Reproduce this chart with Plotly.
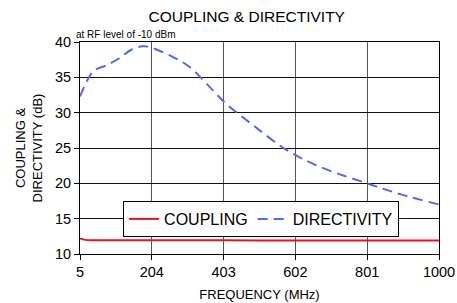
import plotly.graph_objects as go

freq_dir = [5, 31, 45, 78, 114, 147, 179, 197, 262, 308, 354, 409, 483, 575, 667, 800, 897, 1000]
directivity = [32.3, 35.1, 36.0, 36.7, 37.7, 38.9, 39.4, 39.3, 37.9, 36.5, 34.2, 31.3, 28.3, 24.8, 22.4, 20.0, 18.4, 17.0]
freq_cpl = [5, 20, 40, 80, 200, 400, 600, 800, 1000]
coupling = [12.2, 12.0, 11.95, 11.95, 11.95, 11.95, 11.9, 11.9, 11.9]
x_ticks = [5, 204, 403, 602, 801, 1000]
y_ticks = [10, 15, 20, 25, 30, 35, 40]

font = "Liberation Sans, Arial, sans-serif"

fig = go.Figure()
fig.add_trace(go.Scatter(x=freq_cpl, y=coupling, mode="lines", name="COUPLING",
                         line=dict(color="#e8141b", width=2, shape="spline")))
fig.add_trace(go.Scatter(x=freq_dir, y=directivity, mode="lines", name="DIRECTIVITY",
                         line=dict(color="#4a6cf0", width=2, dash="10px,6px", shape="spline")))

fig.update_layout(
    width=457, height=303,
    margin=dict(l=80, r=18, t=42, b=49, autoexpand=False),
    paper_bgcolor="white", plot_bgcolor="white",
    font=dict(family=font, color="black", size=13),
    title=dict(text="COUPLING & DIRECTIVITY", x=0.54, xanchor="center", y=0.945, yanchor="middle",
               font=dict(size=15.5, family=font)),
    showlegend=True,
    legend=dict(orientation="h", x=0.12, y=0.25, xanchor="left", yanchor="top",
                bordercolor="black", borderwidth=1, bgcolor="white",
                font=dict(size=16, family=font), tracegroupgap=0),
    xaxis=dict(range=[5, 1000], tickvals=x_ticks, ticktext=[str(v) for v in x_ticks],
               showgrid=True, gridcolor="#555", gridwidth=1, automargin=False,
               showline=True, linecolor="black", linewidth=1, mirror=True,
               ticks="outside", ticklen=5, tickcolor="black", zeroline=False,
               tickfont=dict(size=14.5),
               title=dict(text="FREQUENCY (MHz)", standoff=10, font=dict(size=13))),
    yaxis=dict(range=[10, 40], tickvals=y_ticks, automargin=False,
               showgrid=True, gridcolor="#111", gridwidth=1,
               showline=True, linecolor="black", linewidth=1, mirror=True,
               ticks="outside", ticklen=5, tickcolor="black", zeroline=False,
               tickfont=dict(size=14.5),
               title=dict(text="COUPLING &<br>DIRECTIVITY (dB)", standoff=9, font=dict(size=13))),
    annotations=[dict(text="at RF level of -10 dBm", xref="paper", yref="paper", x=-0.017, y=1.0,
                      xanchor="left", yanchor="bottom", showarrow=False, font=dict(size=10, family=font))],
)

fig.write_html("out.html", config={"displayModeBar": False},
               post_script="document.body.style.margin='0';document.body.style.overflow='hidden';")
